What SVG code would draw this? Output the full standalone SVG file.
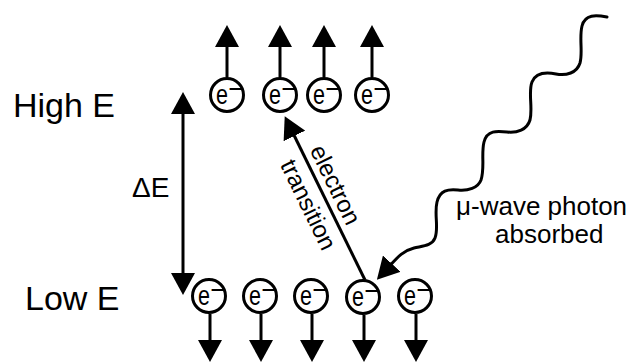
<svg xmlns="http://www.w3.org/2000/svg" width="632" height="363" viewBox="0 0 632 363">
<style>
  .bg{fill:#fff}
  .ec{fill:#fff;stroke:#000;stroke-width:3}
  .et{font-family:"Liberation Sans",Arial,sans-serif;font-size:27px;fill:#000}
  .lbl{font-family:"Liberation Sans",Arial,sans-serif;fill:#000}
  .ln{fill:none;stroke:#000;stroke-width:3}
  .wave{fill:none;stroke:#000;stroke-width:3;stroke-linecap:round}
</style>
<defs>
  <marker id="ah" viewBox="0 0 22 24" refX="10" refY="12" markerWidth="22" markerHeight="24" markerUnits="userSpaceOnUse" orient="auto-start-reverse">
    <path d="M0,0 L22,12 L0,24 Z" fill="#000"/>
  </marker>
  <g id="el">
    <circle class="ec" r="16.5"/>
    <text class="et" x="-11" y="9" textLength="12" lengthAdjust="spacingAndGlyphs">e</text>
    <text class="et" x="1.5" y="3" font-size="19">−</text>
  </g>
</defs>
<rect class="bg" width="632" height="363"/>

<g id="connectors">
  <line class="ln" x1="227" y1="77" x2="227" y2="37" marker-end="url(#ah)"/>
  <line class="ln" x1="280" y1="77" x2="280" y2="37" marker-end="url(#ah)"/>
  <line class="ln" x1="324" y1="77" x2="324" y2="37" marker-end="url(#ah)"/>
  <line class="ln" x1="372" y1="77" x2="372" y2="37" marker-end="url(#ah)"/>
  <line class="ln" x1="210" y1="314" x2="210" y2="350" marker-end="url(#ah)"/>
  <line class="ln" x1="261" y1="314" x2="261" y2="350" marker-end="url(#ah)"/>
  <line class="ln" x1="312" y1="314" x2="312" y2="350" marker-end="url(#ah)"/>
  <line class="ln" x1="364" y1="315" x2="364" y2="350" marker-end="url(#ah)"/>
  <line class="ln" x1="416" y1="314" x2="416" y2="350" marker-end="url(#ah)"/>
  <line id="deltaE-arrow" class="ln" x1="183" y1="104" x2="183" y2="283" marker-start="url(#ah)" marker-end="url(#ah)"/>
  <line id="transition-arrow" class="ln" x1="365" y1="280" x2="290" y2="127" marker-end="url(#ah)"/>
  <path id="photon" class="wave" marker-end="url(#ah)" d="M607,17 C596,15 585,14 582,26 C579,38 583,52 580,63 C577,73 566,76 556,74 C546,72 536,72 532,82 C528,92 533,108 530,120 C527,130 517,133 507,132 C497,131 487,130 484,142 C481,154 485,168 481,180 C478,188 468,191 458,190 C448,189 440,190 437,202 C434,214 439,228 435,238 C432,246 422,246 414,248 C402,251 397,258 385,271"/>
</g>

<g id="e-high-1" transform="translate(227,95)"><use href="#el"/></g>
<g id="e-high-2" transform="translate(280,95)"><use href="#el"/></g>
<g id="e-high-3" transform="translate(324,95)"><use href="#el"/></g>
<g id="e-high-4" transform="translate(372,95)"><use href="#el"/></g>

<g id="e-low-1" transform="translate(209,296)"><use href="#el"/></g>
<g id="e-low-2" transform="translate(260,296)"><use href="#el"/></g>
<g id="e-low-3" transform="translate(311,296)"><use href="#el"/></g>
<g id="e-low-4" transform="translate(363,297)"><use href="#el"/></g>
<g id="e-low-5" transform="translate(415,296)"><use href="#el"/></g>

<g id="label-high"><text class="lbl" x="13" y="117" font-size="34">High E</text></g>
<g id="label-low"><text class="lbl" x="25" y="310" font-size="34">Low E</text></g>
<g id="label-delta"><text class="lbl" x="132" y="197" font-size="28">ΔE</text></g>
<g id="label-transition" transform="translate(285,116) rotate(64)">
  <text class="lbl" x="84" y="-7" font-size="24" text-anchor="middle">electron</text>
  <text class="lbl" x="90" y="26" font-size="24" text-anchor="middle">transition</text>
</g>
<g id="label-photon">
  <text class="lbl" x="456" y="215" font-size="26">μ-wave photon</text>
  <text class="lbl" x="495" y="243" font-size="26">absorbed</text>
</g>
</svg>
